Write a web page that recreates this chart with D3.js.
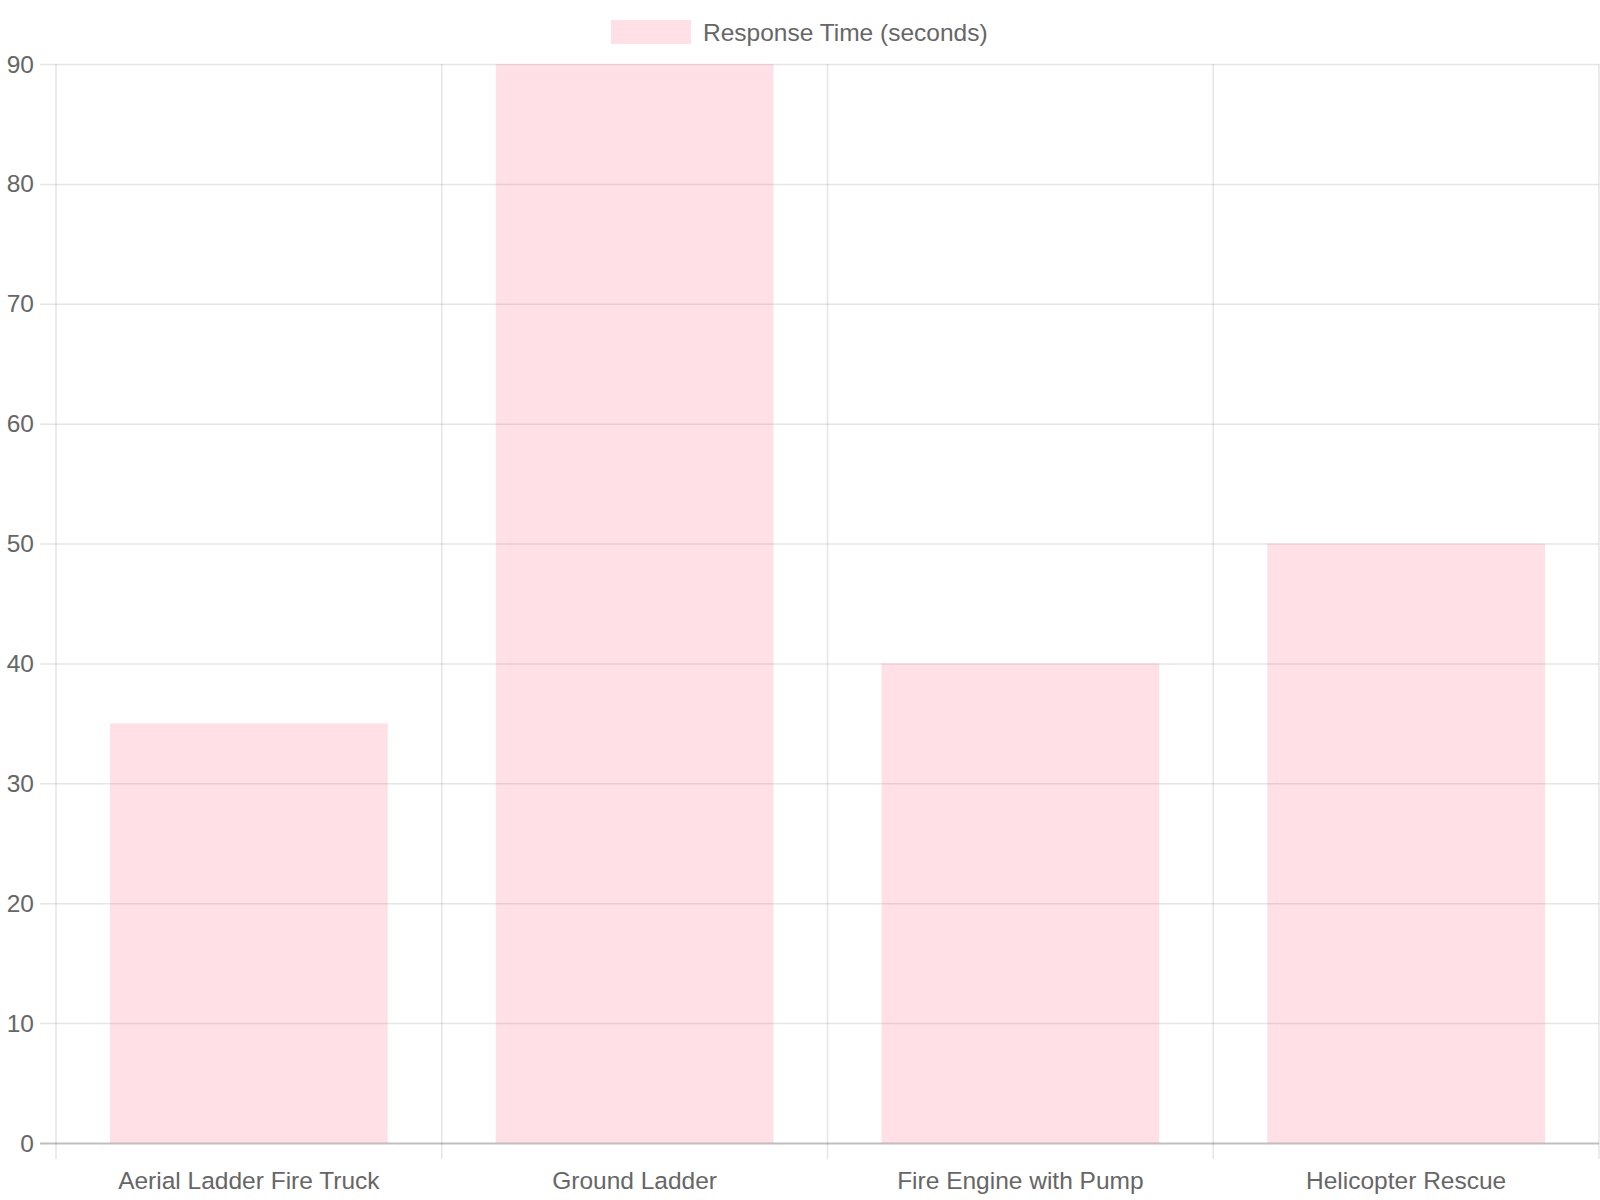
<!DOCTYPE html>
<html><head><meta charset="utf-8">
<script src="https://cdn.jsdelivr.net/npm/d3@7"></script>
<style>html,body{margin:0;padding:0;background:#fff;}svg{display:block;}</style>
</head><body>
<script>
const categories = ["Aerial Ladder Fire Truck", "Ground Ladder", "Fire Engine with Pump", "Helicopter Rescue"];
const responseTimes = [35, 90, 40, 50];
const yTicks = [0, 10, 20, 30, 40, 50, 60, 70, 80, 90];
const seriesName = "Response Time (seconds)";

const W = 1600, H = 1200;
const m = {left: 56, right: 1599, top: 64, bottom: 1143};
const font = "'Liberation Sans', Arial, Helvetica, sans-serif";
const textColor = "#666";
const fs = 24.5;

const svg = d3.select("body").append("svg").attr("width", W).attr("height", H);

const x = d3.scaleBand().domain(categories).range([m.left, m.right]).paddingInner(0).paddingOuter(0);
const y = d3.scaleLinear().domain([0, 90]).range([m.bottom, m.top]);

// horizontal gridlines
svg.append("g").selectAll("line").data(yTicks).join("line")
  .attr("x1", m.left - 16).attr("x2", m.right)
  .attr("y1", d => y(d) + 0.5).attr("y2", d => y(d) + 0.5)
  .attr("stroke", d => d === 0 ? "rgba(0,0,0,0.25)" : "rgba(0,0,0,0.1)")
  .attr("stroke-width", d => d === 0 ? 2 : 1.5);

// vertical gridlines (category boundaries)
const bounds = categories.map(c => x(c)).concat([m.right]);
svg.append("g").selectAll("line").data(bounds).join("line")
  .attr("x1", d => d).attr("x2", d => d)
  .attr("y1", m.top).attr("y2", m.bottom + 16)
  .attr("stroke", "rgba(0,0,0,0.1)").attr("stroke-width", 1.5);

// bars
const barW = x.bandwidth() * 0.72;
svg.append("g").selectAll("rect").data(categories).join("rect")
  .attr("x", d => x(d) + (x.bandwidth() - barW) / 2)
  .attr("width", barW)
  .attr("y", (d, i) => y(responseTimes[i]))
  .attr("height", (d, i) => y(0) - y(responseTimes[i]))
  .attr("fill", "rgba(255,99,132,0.2)");

// y tick labels
svg.append("g").selectAll("text").data(yTicks).join("text")
  .attr("x", 34).attr("y", d => y(d))
  .attr("text-anchor", "end").attr("dominant-baseline", "central")
  .attr("font-family", font).attr("font-size", fs).attr("fill", textColor)
  .text(d => d);

// x labels
svg.append("g").selectAll("text").data(categories).join("text")
  .attr("x", d => x(d) + x.bandwidth() / 2).attr("y", 1180)
  .attr("text-anchor", "middle").attr("dominant-baseline", "central")
  .attr("font-family", font).attr("font-size", fs).attr("fill", textColor)
  .text(d => d);

// legend
const lg = svg.append("g");
lg.append("rect").attr("x", 611).attr("y", 20).attr("width", 80).attr("height", 24)
  .attr("fill", "rgba(255,99,132,0.2)");
lg.append("text").attr("x", 703).attr("y", 32).attr("dominant-baseline", "central")
  .attr("font-family", font).attr("font-size", fs).attr("fill", textColor)
  .text(seriesName);
</script>
</body></html>
